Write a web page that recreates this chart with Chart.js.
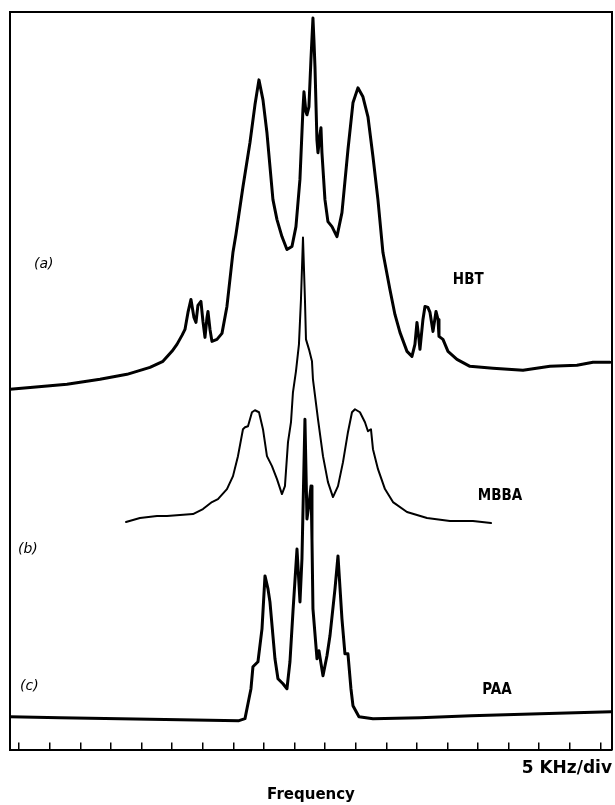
<!DOCTYPE html>
<html>
<head>
<meta charset="utf-8">
<script src="https://cdn.jsdelivr.net/npm/chart.js@4.4.1/dist/chart.umd.min.js"></script>
<style>
  html, body { margin: 0; padding: 0; background: #fff; }
  #c { display: block; }
</style>
</head>
<body>
<canvas id="c" width="615" height="805"></canvas>
<script>
// Frequency axis in kHz (5 kHz per division), intensity in arbitrary units
const tickKHz = [0,5,10,15,20,25,30,35,40,45,50,55,60,65,70,75,80,85,90,95];

// (a) HBT
const hbtX = [-1.50,2.26,7.81,13.21,17.62,21.38,23.50,24.97,25.79,26.61,
  27.10,27.59,28.08,28.57,28.90,29.22,29.71,30.04,30.37,30.70,
  30.86,31.19,31.51,32.33,33.15,33.96,34.94,35.43,36.58,37.72,
  38.54,39.19,39.85,40.50,41.48,42.14,42.95,43.77,44.59,45.24,
  45.89,46.38,46.55,46.87,47.04,47.36,47.69,48.02,48.18,48.35,
  48.67,48.84,49.16,49.33,49.49,49.98,50.47,51.13,51.94,52.76,
  53.74,54.56,55.37,56.19,57.01,57.83,58.64,59.46,60.60,61.42,
  62.24,63.39,64.20,64.69,65.02,65.35,65.51,66.00,66.33,66.82,
  67.15,67.64,68.13,68.46,68.62,69.27,70.09,71.56,73.68,77.44,
  82.35,86.76,91.17,93.79,96.57];
const hbtI = [2,4,7,12,17,24,30,40,47,56,
  62,79,92,74,69,86,90,70,54,74,
  80,62,50,52,58,85,139,157,205,249,
  287,312,292,259,192,172,155,142,145,165,
  212,282,300,280,277,285,332,374,352,325,
  252,239,257,264,239,192,170,165,155,179,
  242,289,304,295,275,235,192,139,102,77,
  59,40,35,47,69,52,42,72,85,84,
  79,60,80,72,55,52,40,32,25,23,
  21,25,26,29,29];

// (b) MBBA
const mbbaX = [17.46,19.74,22.52,24.16,28.41,30.04,31.51,32.49,33.96,34.95,
  35.76,36.58,36.91,37.40,38.05,38.54,39.20,39.85,40.50,41.32,
  42.14,42.95,43.44,43.94,44.43,44.75,45.24,45.73,46.06,46.39,
  46.71,46.88,47.37,47.86,48.02,48.84,49.66,50.47,51.29,52.11,
  52.93,53.74,54.40,54.89,55.70,56.52,57.01,57.50,57.83,58.65,
  59.79,61.10,63.39,66.66,70.41,74.17,77.12];
const mbbaI = [1,5,7,7,9,14,21,24,34,47,
  67,94,96,97,111,113,111,94,67,57,
  44,29,37,81,101,131,152,179,224,286,
  224,184,174,162,144,104,67,41,26,37,
  61,91,111,114,111,101,92,94,74,54,
  34,21,11,5,2,2,0];

// (c) PAA
const paaX = [-1.50,6.67,16.48,26.28,35.93,36.91,37.56,37.89,38.21,39.03,
  39.69,40.18,40.67,40.99,41.81,42.30,43.12,43.77,44.26,44.75,
  45.41,45.90,46.22,46.71,47.04,47.37,47.70,47.86,48.02,48.68,
  49.00,49.66,50.31,50.80,51.62,52.11,52.76,53.25,53.74,54.23,
  54.56,55.54,57.83,65.51,73.85,85.12,96.73];
const paaI = [4,3,2,1,0,2,22,32,54,59,
  92,145,132,119,62,42,37,32,59,109,
  172,119,162,302,202,217,235,182,112,62,
  70,45,65,85,132,165,102,67,67,32,
  15,4,2,3,5,7,9];

// vertical offsets of the stacked traces (arbitrary units)
const offsets = { hbt: 359, mbba: 227, paa: 29 };

const labelFont = 'bold 15px "Liberation Sans Narrow", "DejaVu Sans Condensed", sans-serif';
const tagFont = 'italic 14px "DejaVu Sans", sans-serif';
const labels = [
  { text: '(a)',  x: 2.42,  y: 486, font: tagFont,   align: 'left' },
  { text: 'HBT',  x: 73.40, y: 470, font: labelFont, align: 'center' },
  { text: 'MBBA', x: 78.60, y: 254, font: labelFont, align: 'center' },
  { text: '(b)',  x: -0.20, y: 201, font: tagFont,   align: 'left' },
  { text: 'PAA',  x: 78.10, y: 60,  font: labelFont, align: 'center' },
  { text: '(c)',  x: 0.13,  y: 63,  font: tagFont,   align: 'left' }
];

function pts(xs, ys, off) { return xs.map((x, i) => ({ x: x, y: ys[i] + off })); }

const textPlugin = {
  id: 'textLabels',
  afterDatasetsDraw(chart) {
    const { ctx, scales: { x, y } } = chart;
    ctx.save();
    ctx.fillStyle = '#000';
    ctx.textBaseline = 'middle';
    labels.forEach(l => {
      ctx.font = l.font;
      ctx.textAlign = l.align;
      ctx.fillText(l.text, x.getPixelForValue(l.x), y.getPixelForValue(l.y));
    });
    ctx.restore();
  }
};

const hiddenAxis = (pos) => ({
  type: 'linear', position: pos, display: true,
  ticks: { display: false },
  grid: { drawOnChartArea: false, drawTicks: false },
  border: { display: true, color: '#000', width: 2 }
});

new Chart(document.getElementById('c'), {
  type: 'scatter',
  data: {
    datasets: [
      { label: 'HBT',  data: pts(hbtX, hbtI, offsets.hbt),  borderWidth: 3 },
      { label: 'MBBA', data: pts(mbbaX, mbbaI, offsets.mbba), borderWidth: 2 },
      { label: 'PAA',  data: pts(paaX, paaI, offsets.paa),  borderWidth: 3 }
    ].map(d => Object.assign(d, { showLine: true, pointRadius: 0, borderColor: '#000', backgroundColor: '#000', tension: 0, borderJoinStyle: 'round', borderCapStyle: 'round' }))
  },
  options: {
    responsive: false,
    animation: false,
    devicePixelRatio: 1,
    layout: { padding: { left: 10, right: 3, top: 12, bottom: 0 } },
    plugins: {
      legend: { display: false },
      tooltip: { enabled: false },
      title: {
        display: true, position: 'bottom', text: 'Frequency', color: '#000',
        font: { family: '"DejaVu Sans", sans-serif', size: 15, weight: 'bold' },
        padding: { top: 7, bottom: 1 }
      }
    },
    scales: {
      x: {
        type: 'linear', position: 'bottom', min: -1.5, max: 96.9,
        afterBuildTicks: (s) => { s.ticks = tickKHz.map(v => ({ value: v })); },
        ticks: { display: false },
        grid: { drawOnChartArea: false, drawTicks: true, tickLength: -7, color: '#000', lineWidth: 1.5 },
        border: { display: true, color: '#000', width: 2 },
        title: {
          display: true, text: '5 KHz/div', align: 'end', color: '#000',
          font: { family: '"DejaVu Sans", sans-serif', size: 17, weight: 'bold' },
          padding: { top: 16, bottom: 0 }
        }
      },
      xTop: hiddenAxis('top'),
      y: Object.assign(hiddenAxis('left'), { min: 0, max: 739 }),
      yRight: hiddenAxis('right')
    }
  },
  plugins: [textPlugin]
});
</script>
</body>
</html>
